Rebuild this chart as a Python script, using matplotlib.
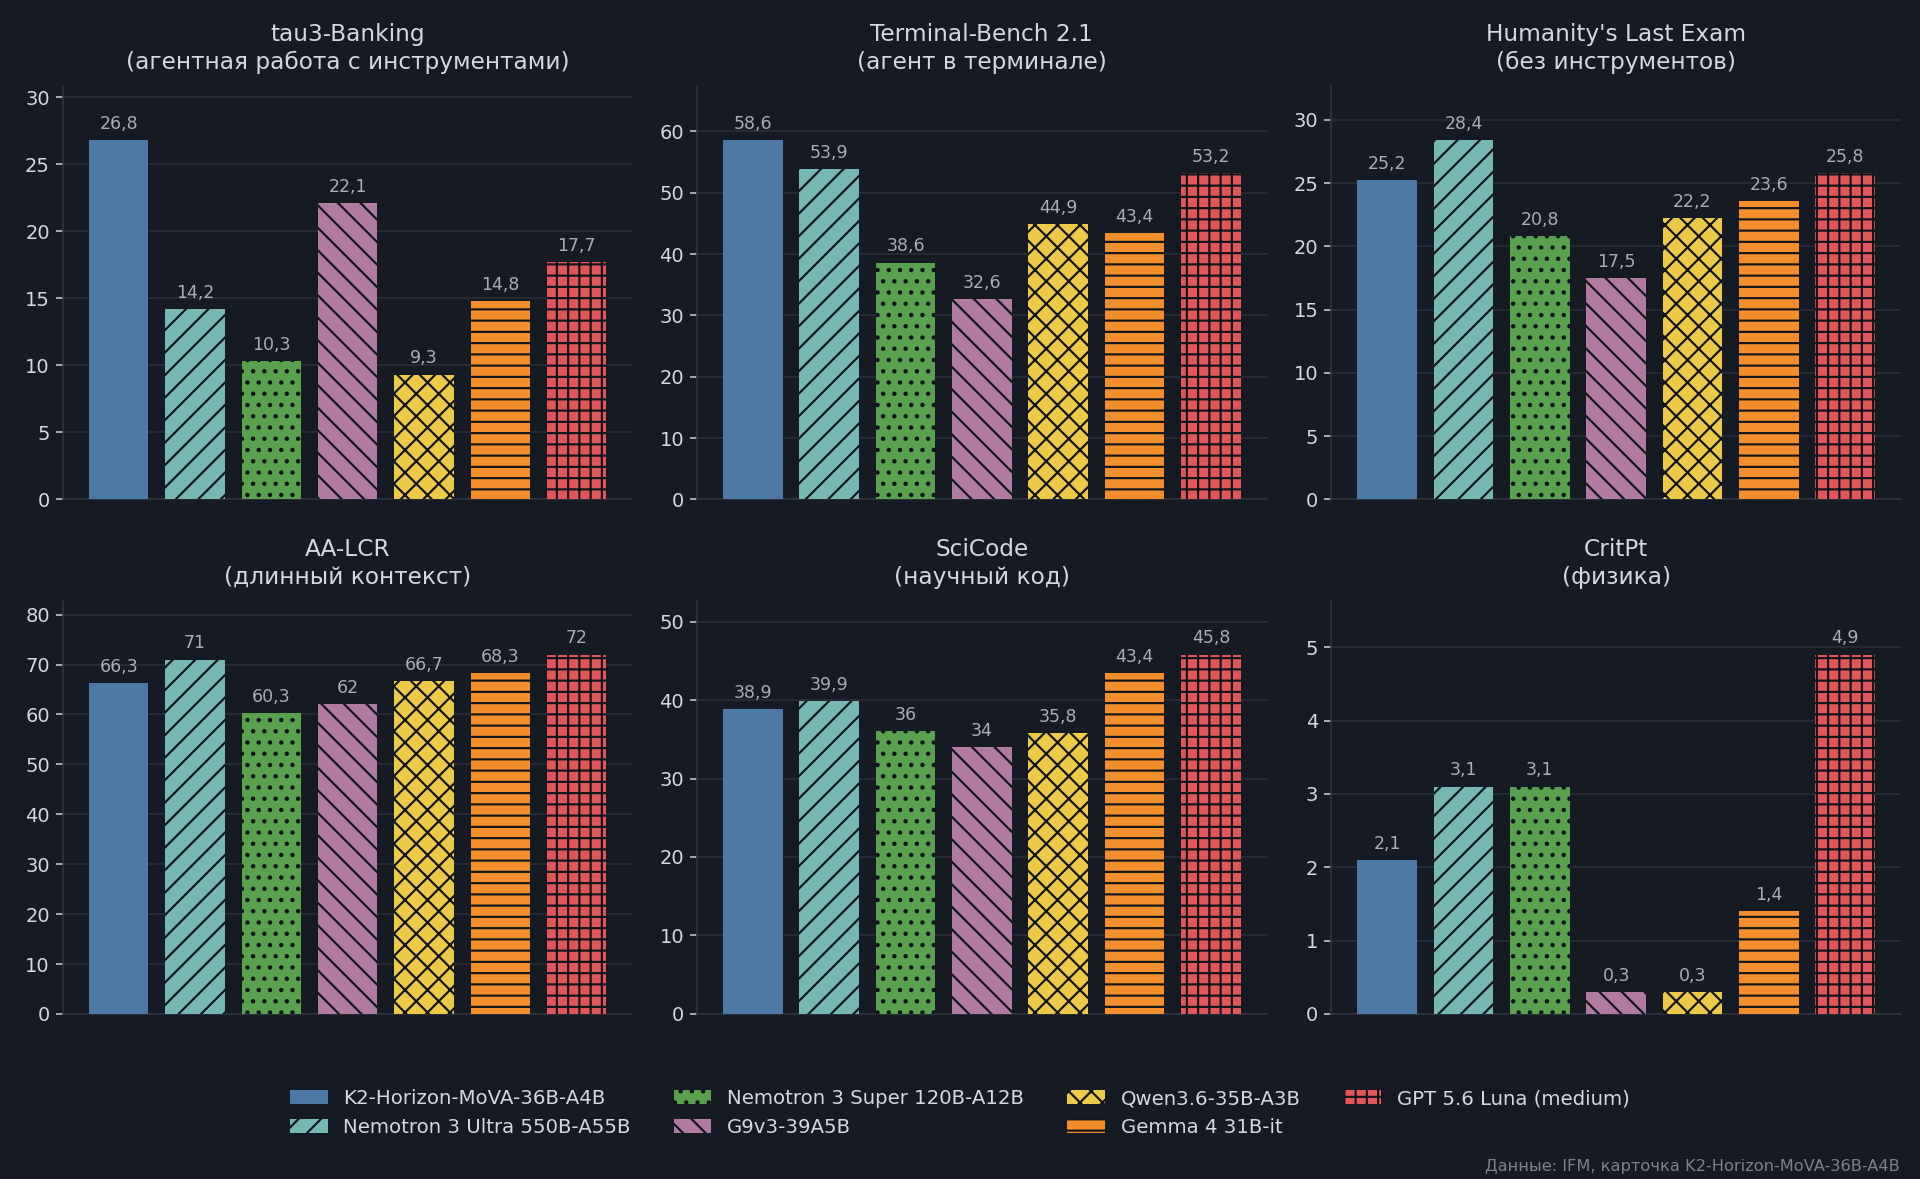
import numpy as np
import matplotlib
matplotlib.use('Agg')
import matplotlib.pyplot as plt
from matplotlib.patches import Patch

models = ['K2-Horizon-MoVA-36B-A4B', 'Nemotron 3 Ultra 550B-A55B', 'Nemotron 3 Super 120B-A12B',
          'G9v3-39A5B', 'Qwen3.6-35B-A3B', 'Gemma 4 31B-it', 'GPT 5.6 Luna (medium)']
colors = ['#4e79a7', '#76b7b2', '#59a14f', '#b07aa1', '#edc948', '#f28e2b', '#e15759']
hatches = ['', '//', '..', '\\\\', 'xx', '--', '++']

titles = ['tau3-Banking\n(агентная работа с инструментами)',
          'Terminal-Bench 2.1\n(агент в терминале)',
          "Humanity's Last Exam\n(без инструментов)",
          'AA-LCR\n(длинный контекст)',
          'SciCode\n(научный код)',
          'CritPt\n(физика)']

tau3_banking = [26.8, 14.2, 10.3, 22.1, 9.3, 14.8, 17.7]
terminal_bench = [58.6, 53.9, 38.6, 32.6, 44.9, 43.4, 53.2]
hle = [25.2, 28.4, 20.8, 17.5, 22.2, 23.6, 25.8]
aa_lcr = [66.3, 71, 60.3, 62, 66.7, 68.3, 72]
scicode = [38.9, 39.9, 36, 34, 35.8, 43.4, 45.8]
critpt = [2.1, 3.1, 3.1, 0.3, 0.3, 1.4, 4.9]

BG = '#161a23'
TXT = '#d4d7dd'
HATCH = '#10141b'
DPI = 135
plt.rcParams['hatch.linewidth'] = 1.15
plt.rcParams['font.family'] = ['DejaVu Sans']


def fmt(v):
    if float(v).is_integer():
        return str(int(v))
    return ('%.1f' % v).replace('.', ',')


fig, axes = plt.subplots(2, 3, figsize=(1920 / DPI, 1179 / DPI), dpi=DPI, facecolor=BG)
data = [tau3_banking, terminal_bench, hle, aa_lcr, scicode, critpt]
x = np.arange(len(models))

for ax, vals, title in zip(axes.flat, data, titles):
    ax.set_facecolor(BG)
    bars = ax.bar(x, vals, width=0.78, color=colors, edgecolor=HATCH, linewidth=0, zorder=3)
    for b, h in zip(bars, hatches):
        b.set_hatch(h)
    top = max(vals)
    for xi, v in zip(x, vals):
        ax.text(xi, v + top * 0.02, fmt(v), ha='center', va='bottom', fontsize=9.3,
                color='#a9adb6', zorder=4)
    ax.set_ylim(0, top * 1.15)
    ax.set_xticks([])
    ax.set_title(title, color=TXT, fontsize=12.4, pad=8.9, linespacing=1.3)
    ax.grid(axis='y', color='#2a2f3a', linewidth=0.8, zorder=0)
    for s in ['top', 'right']:
        ax.spines[s].set_visible(False)
    for s in ['left', 'bottom']:
        ax.spines[s].set_color('#30353f')
        ax.spines[s].set_linewidth(0.8)
    ax.tick_params(axis='y', colors=TXT, labelsize=10.4, length=3.5, width=0.8)
    ax.tick_params(axis='x', length=0)

handles = [Patch(facecolor=c, edgecolor=HATCH, linewidth=0, hatch=h, label=m)
           for m, c, h in zip(models, colors, hatches)]
fig.legend(handles=handles, loc='center', ncol=4, frameon=False, fontsize=10.5,
           bbox_to_anchor=(0.5, 0.056), labelcolor=TXT, handlelength=1.9,
           columnspacing=2.2, handletextpad=0.8, labelspacing=0.48)

fig.text(0.9896, 0.0102, 'Данные: IFM, карточка K2-Horizon-MoVA-36B-A4B', ha='right', va='center',
         fontsize=8.7, color='#7d818a')

fig.subplots_adjust(left=0.0328, right=0.99, top=0.927, bottom=0.14, wspace=0.114, hspace=0.245)
fig.savefig('out.png', dpi=DPI, facecolor=BG)
